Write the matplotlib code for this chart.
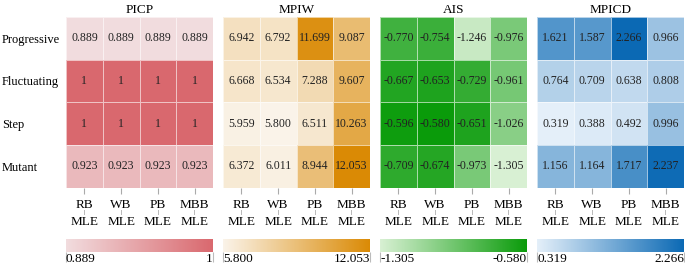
import numpy as np
import matplotlib
matplotlib.use('Agg')
import matplotlib.pyplot as plt
from matplotlib.colors import LinearSegmentedColormap

plt.rcParams['font.family'] = ['Liberation Serif', 'DejaVu Serif']

scenarios = ['Progressive', 'Fluctuating', 'Step', 'Mutant']
methods = ['RB', 'WB', 'PB', 'MBB']
suffix = 'MLE'
metrics = ['PICP', 'MPIW', 'AIS', 'MPICD']

picp = [[0.889, 0.889, 0.889, 0.889],
        [1, 1, 1, 1],
        [1, 1, 1, 1],
        [0.923, 0.923, 0.923, 0.923]]
mpiw = [[6.942, 6.792, 11.699, 9.087],
        [6.668, 6.534, 7.288, 9.607],
        [5.959, 5.800, 6.511, 10.263],
        [6.372, 6.011, 8.944, 12.053]]
ais = [[-0.770, -0.754, -1.246, -0.976],
       [-0.667, -0.653, -0.729, -0.961],
       [-0.596, -0.580, -0.651, -1.026],
       [-0.709, -0.674, -0.973, -1.305]]
mpicd = [[1.621, 1.587, 2.266, 0.966],
         [0.764, 0.709, 0.638, 0.808],
         [0.319, 0.388, 0.492, 0.996],
         [1.156, 1.164, 1.717, 2.237]]

datasets = [picp, mpiw, ais, mpicd]
cmap_colors = [['#f1dcde', '#d9686e'],
               ['#faf3e9', '#da8a05'],
               ['#d8f0d3', '#0a9b0a'],
               ['#e4eff9', '#0b69b4']]


def fmt(v):
    return '1' if v == 1 else f'{v:.3f}'


W, H = 685, 265
fig = plt.figure(figsize=(W / 100, H / 100), dpi=100)
lefts = [66, 223, 380, 537]
pw = 147

for k, (name, data, cc, left) in enumerate(zip(metrics, datasets, cmap_colors, lefts)):
    arr = np.array(data, dtype=float)
    cmap = LinearSegmentedColormap.from_list(name, cc)
    vmin, vmax = arr.min(), arr.max()
    ax = fig.add_axes([left / W, (H - 187.5) / H, pw / W, 170.5 / H])
    mesh = ax.pcolormesh(arr, cmap=cmap, vmin=vmin, vmax=vmax,
                         edgecolors=(1, 1, 1, 0.6), linewidth=0.6)
    ax.set_xlim(0, arr.shape[1])
    ax.set_ylim(arr.shape[0], 0)
    for s in ax.spines.values():
        s.set_visible(False)
    for i in range(arr.shape[0]):
        for j in range(arr.shape[1]):
            ax.text(j + 0.5, i + 0.5, fmt(arr[i, j]), ha='center', va='center',
                    fontsize=8.5, color='#222222')
    ax.set_title(name, fontsize=9.5, pad=3)
    ax.set_xticks(np.arange(len(methods)) + 0.5,
                  [f'{m}\n{suffix}' for m in methods])
    ax.tick_params(axis='x', length=4, width=0.8, color='#aaaaaa', pad=4,
                   labelsize=9.5)
    for t in ax.get_xticklabels():
        t.set_linespacing(1.6)
    for j in range(len(methods)):
        ax.annotate('|', xy=(j + 0.5, 0), xycoords=('data', 'axes fraction'),
                    xytext=(0, -18), textcoords='offset points',
                    ha='center', va='center', fontsize=5, color='#444444',
                    annotation_clip=False)
    if k == 0:
        ax.set_yticks(np.arange(len(scenarios)) + 0.5, scenarios)
        ax.tick_params(axis='y', length=0, pad=46, labelsize=9)
        for t in ax.get_yticklabels():
            t.set_ha('left')
    else:
        ax.set_yticks([])

    cax = fig.add_axes([left / W, (H - 252) / H, pw / W, 13.5 / H])
    cb = fig.colorbar(mesh, cax=cax, orientation='horizontal')
    cb.outline.set_visible(False)
    cb.set_ticks([vmin, vmax])
    cb.set_ticklabels([fmt(vmin), fmt(vmax)])
    cax.tick_params(length=7, width=0.8, color='#bbbbbb', pad=-6.5, labelsize=9.5)
    tl = cax.get_xticklabels()
    tl[0].set_ha('left')
    tl[1].set_ha('right')

fig.savefig('out.png', dpi=100)
